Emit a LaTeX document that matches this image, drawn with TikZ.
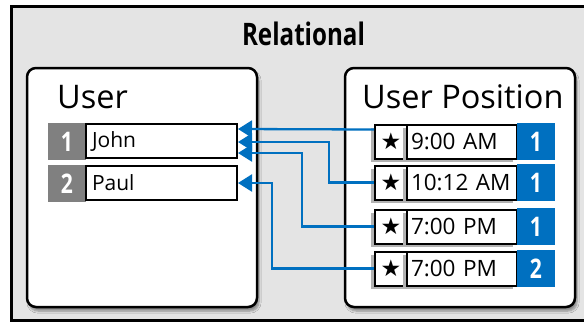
\documentclass[tikz,border=0pt]{standalone}
\usepackage{fontspec}
\setmainfont{Open Sans}
\newfontfamily\titlefont{Open Sans}[FakeStretch=0.78]
\newfontfamily\symfont{DejaVu Sans}
\usetikzlibrary{arrows.meta,shadows.blur}
\definecolor{panelgray}{HTML}{E4E4E4}
\definecolor{keygray}{HTML}{808080}
\definecolor{keyblue}{HTML}{0070C0}
\begin{document}
\begin{tikzpicture}[x=1pt, y=-1pt,
  tbl/.style={draw, line width=2.5pt, rounded corners=9pt, fill=white, minimum width=230pt, minimum height=239pt,
    blur shadow={shadow xshift=2pt, shadow yshift=-4pt, shadow blur steps=6}},
  head/.style={anchor=base west, inner sep=0, font=\fontsize{32.5}{32.5}\selectfont},
  pkey/.style={fill=keygray, text=white, minimum width=38pt, minimum height=37pt, inner sep=0, font=\titlefont\bfseries\fontsize{27}{27}\selectfont},
  fkey/.style={pkey, fill=keyblue},
  cell/.style={draw, line width=2pt, fill=white, minimum height=34pt, inner sep=0, font=\fontsize{21}{21}\selectfont},
  namecell/.style={cell, text width=139pt, inner xsep=6pt, align=left},
  starcell/.style={cell, minimum width=32pt, font=\symfont\fontsize{23}{23}\selectfont,
    general shadow={fill=gray!60, shadow xshift=-4pt, shadow yshift=-3pt}},
  timecell/.style={cell, text width=102pt, inner xsep=4pt, align=left, font=\fontsize{22.5}{22.5}\selectfont,
    general shadow={fill=gray!60, shadow xshift=-4pt, shadow yshift=-3pt}},
  link/.style={draw=keyblue, line width=2.3pt, -{Triangle[length=14pt,width=17pt]}}]
\useasboundingbox (0,0) rectangle (584,325);
\fill[white] (0,0) rectangle (584,325);
\draw[line width=3pt, fill=panelgray] (11.5,6.5) rectangle (600,320.5);
\node[anchor=base, inner sep=0, font=\titlefont\bfseries\fontsize{31}{31}\selectfont] (title) at (303.5,45) {Relational};
% user table
\node[tbl] (user) at (142,187.5) {};
\node[head] (userhd) at (57,108) {User};
\node[pkey] (uk1) at (67,141.5) {1};
\node[namecell] (un1) at (161.5,141) {John};
\node[pkey] (uk2) at (67,183.5) {2};
\node[namecell] (un2) at (161.5,183) {Paul};
% user position table
\node[tbl] (upos) at (460,187.5) {};
\node[head] (uposhd) at (362,108) {User Position};
\node[starcell] (ps1) at (391,141.5) {★};
\node[timecell] (pt1) at (462,141.5) {9:00 AM};
\node[fkey] (pk1) at (536,141.5) {1};
\node[starcell] (ps2) at (391,182.5) {★};
\node[timecell] (pt2) at (462,182.5) {10:12 AM};
\node[fkey] (pk2) at (536,182.5) {1};
\node[starcell] (ps3) at (391,226.5) {★};
\node[timecell] (pt3) at (462,226.5) {7:00 PM};
\node[fkey] (pk3) at (536,226.5) {1};
\node[starcell] (ps4) at (391,268.5) {★};
\node[timecell] (pt4) at (462,268.5) {7:00 PM};
\node[fkey] (pk4) at (536,268.5) {2};
% links
\draw[link] ([yshift=12pt]ps1.west) -- ([yshift=12pt]un1.east);
\draw[link] (ps2.west) -- ++(-45,0) |- ([yshift=-1pt]un1.east);
\draw[link] (ps3.west) -- ++(-72,0) |- ([yshift=-12pt]un1.east);
\draw[link] (ps4.west) -- ++(-102,0) |- (un2.east);
\end{tikzpicture}
\end{document}
